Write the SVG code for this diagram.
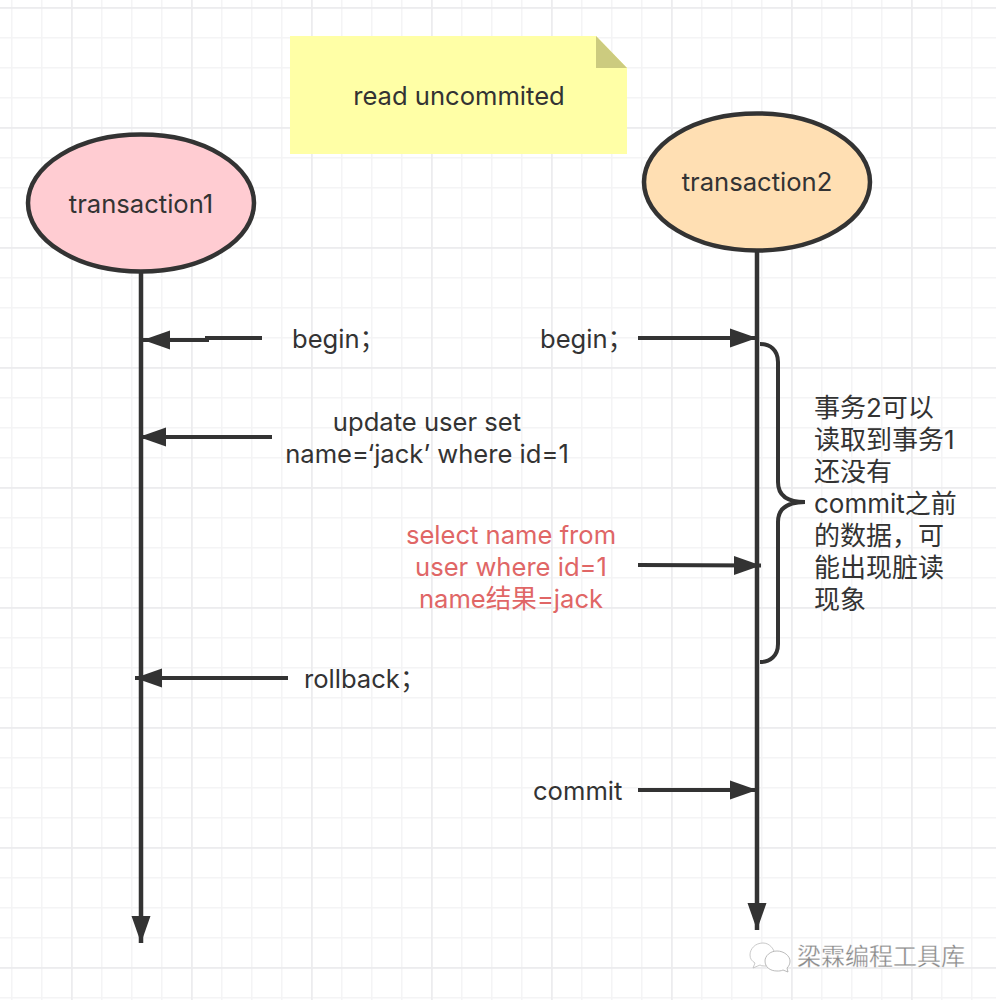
<svg xmlns="http://www.w3.org/2000/svg" width="996" height="1000" viewBox="0 0 996 1000">
<defs>
<pattern id="minor" width="30" height="30" patternUnits="userSpaceOnUse" x="11" y="7"><path d="M0.5 0V30M0 0.5H30" fill="none" stroke="#f4f4f5" stroke-width="2"/></pattern>
<pattern id="major" width="120" height="120" patternUnits="userSpaceOnUse" x="71" y="7"><path d="M0.5 0V120M0 0.5H120" fill="none" stroke="#ececee" stroke-width="2.4"/></pattern>
<marker id="arr" markerUnits="userSpaceOnUse" markerWidth="28" markerHeight="20" refX="27" refY="10" orient="auto"><path d="M0 0.500L27 10L0 19.500Z" fill="#333"/></marker>
</defs>
<style>
text{font-family:Inter,"Noto Sans CJK SC","Liberation Sans",sans-serif;font-size:25.600px;fill:#333}
.m{text-anchor:middle}
.line{fill:none;stroke:#333;stroke-width:4}
.life{fill:none;stroke:#333;stroke-width:4.500}
.arrow{marker-end:url(#arr)}
.node{stroke:#333;stroke-width:4.500}
.red{fill:#e06666}
.cjk{font-size:26px}
</style>
<rect width="996" height="1000" fill="#fff"/>
<rect id="grid-minor" width="996" height="1000" fill="url(#minor)"/>
<rect id="grid-major" width="996" height="1000" fill="url(#major)"/>
<g id="connectors">
<path class="life arrow" d="M141 272V943"/>
<path class="life arrow" d="M757 250V930"/>
<path class="line arrow" d="M262 338H207V340H143"/>
<path class="line arrow" d="M272 437L139 437"/>
<path class="line arrow" d="M288 678H135"/>
<path class="line arrow" d="M638 338H757"/>
<path class="line arrow" d="M638 565L761 565.500"/>
<path class="line arrow" d="M638 790H757"/>
<path class="line" d="M760 344C770 344 778 350 778 362V482C778 494 785 502 805 502C785 502 778 510 778 522V644C778 656 770 662 760 662"/>
</g>
<g id="note">
<path d="M290 36H596L627 68V154H290Z" fill="#ffffa6"/>
<path d="M596 36L627 68H596Z" fill="#cccb7f"/>
<text class="m" x="459" y="105">read uncommited</text>
</g>
<g id="transaction1">
<ellipse class="node" cx="141" cy="203" rx="113" ry="68.500" fill="#ffccd2"/>
<text class="m" x="141" y="213">transaction1</text>
</g>
<g id="transaction2">
<ellipse class="node" cx="757" cy="182" rx="113" ry="68.500" fill="#ffdfb3"/>
<text class="m" x="757" y="191">transaction2</text>
</g>
<g id="labels">
<text x="292" y="348">begin；</text>
<text x="540" y="348">begin；</text>
<text class="m" x="427" y="431">update user set</text>
<text class="m" x="427" y="463">name=‘jack’ where id=1</text>
<text class="m red" x="511" y="544">select name from</text>
<text class="m red" x="511" y="576">user where id=1</text>
<text class="m red" x="511" y="608">name结果=jack</text>
<text x="304" y="688">rollback；</text>
<text x="533" y="800">commit</text>
<text class="cjk" x="814" y="417">事务2可以</text>
<text class="cjk" x="814" y="449">读取到事务1</text>
<text class="cjk" x="814" y="481">还没有</text>
<text class="cjk" x="814" y="513">commit之前</text>
<text class="cjk" x="814" y="545">的数据，可</text>
<text class="cjk" x="814" y="577">能出现脏读</text>
<text class="cjk" x="814" y="609">现象</text>
</g>
<g id="watermark">
<path d="M763 943C755 943 750 949 750 955C750 959 752 961 755 963L753 968L760 965C762 966 764 966 766 966C770 962 772 957 775 955C774 948 769 943 763 943Z" fill="#fff" stroke="#bbb" stroke-width="0.800"/>
<path d="M777 951C770 951 765 956 765 961C765 967 770 971 777 971C779 971 781 971 783 970L788 972L787 968C789 966 790 964 790 961C790 956 784 951 777 951Z" fill="#fff" stroke="#aaa" stroke-width="0.800"/>
<text x="797" y="965" style="font-size:24px;fill:#8a8a8a;stroke:#fff;stroke-width:0.300">梁霖编程工具库</text>
</g>
</svg>
